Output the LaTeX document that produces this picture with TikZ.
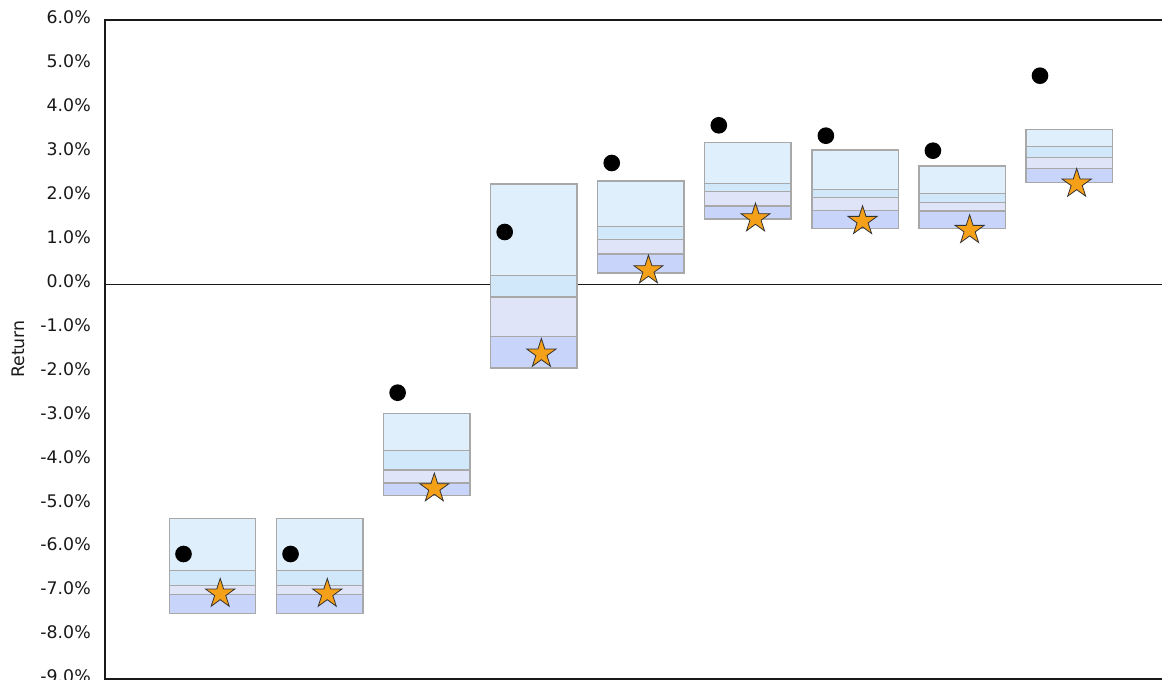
\documentclass[tikz,border=0pt]{standalone}
\usepackage{fontspec}
\setmainfont{DejaVu Sans}
\usetikzlibrary{shapes.geometric}
\definecolor{bandA}{RGB}{223,239,252}
\definecolor{bandB}{RGB}{209,232,251}
\definecolor{bandC}{RGB}{224,228,248}
\definecolor{bandD}{RGB}{200,212,250}
\definecolor{edgegray}{RGB}{168,168,168}
\definecolor{starfill}{RGB}{245,160,25}
\definecolor{axisgray}{RGB}{25,25,25}
\tikzset{
  axisline/.style={draw=axisgray, line width=0.9pt},
  zeroline/.style={draw=axisgray, line width=0.8pt},
  bandedge/.style={draw=edgegray, line width=1pt},
  ticklabel/.style={anchor=east, inner sep=0pt, font=\fontsize{13}{15}\selectfont, text=axisgray},
  axislabel/.style={inner sep=0pt, font=\fontsize{13}{15}\selectfont, text=axisgray, rotate=90},
  dotmark/.style={circle, fill=black, inner sep=0pt, minimum size=12.5pt},
  starmark/.style={star, star points=5, star point ratio=2.618, fill=starfill, draw=black!80, line width=0.6pt, inner sep=0pt, minimum size=23pt}
}
\begin{document}
\begin{tikzpicture}[x=0.75pt,y=-0.75pt]
\useasboundingbox (0,0) rectangle (1162,680);
% zero line
\coordinate (zl) at (105,284.3);
\coordinate (zr) at (1162,284.3);
\draw[zeroline] (zl) -- (zr);
% boxes
\foreach \i/\t/\a/\b/\c/\d in {
  1/518.7/570.3/585.7/594.7/613.3,
  2/518.7/570.3/585.7/594.7/613.3,
  3/413.7/450.3/470/483/495.3,
  4/184/275.3/297/336.7/368,
  5/181/226.3/239.7/254/273,
  6/142.3/183.3/191.7/206/219,
  7/150/189.3/197.7/210.7/228.3,
  8/166/193.3/202.7/211/228.7,
  9/129.7/146.7/157.3/168.3/182.3}{
  \pgfmathsetmacro\L{169.5+107.06*(\i-1)}
  \pgfmathsetmacro\R{\L+86.3}
  \fill[bandA] (\L,\t) rectangle (\R,\a);
  \fill[bandB] (\L,\a) rectangle (\R,\b);
  \fill[bandC] (\L,\b) rectangle (\R,\c);
  \fill[bandD] (\L,\c) rectangle (\R,\d);
  \draw[bandedge] (\L,\a) -- (\R,\a) (\L,\b) -- (\R,\b) (\L,\c) -- (\R,\c);
  \draw[bandedge] (\L,\t) rectangle (\R,\d);
}
\foreach \i/\dy/\sy in {1/554/593.8, 2/554/593.8, 3/392.7/488.4, 4/232/353.8, 5/163/270.4, 6/125.3/218.4, 7/135.7/221.1, 8/150.7/230.1, 9/75.7/183.8}{
  \pgfmathsetmacro\L{169.5+107.06*(\i-1)}
  \node[dotmark] (dot\i) at (\L+14,\dy) {};
  \node[starmark] (star\i) at (\L+50.7,\sy) {};
}
% frame
\coordinate (tl) at (105,20);
\coordinate (tr) at (1163,20);
\coordinate (bl) at (105,679);
\coordinate (br) at (1163,679);
\draw[axisline] (tr) -- (tl) -- (bl) -- (br);
% tick labels
\foreach \v/\s in {6/6.0\%,5/5.0\%,4/4.0\%,3/3.0\%,2/2.0\%,1/1.0\%,0/0.0\%,-1/-1.0\%,-2/-2.0\%,-3/-3.0\%,-4/-4.0\%,-5/-5.0\%,-6/-6.0\%,-7/-7.0\%,-8/-8.0\%,-9/-9.0\%}{
  \node[ticklabel] (tick\v) at (91,{20+(6-\v)*43.93-2.5}) {\s};
}
\node[axislabel] (ylab) at (18,349) {Return};
\end{tikzpicture}
\end{document}
